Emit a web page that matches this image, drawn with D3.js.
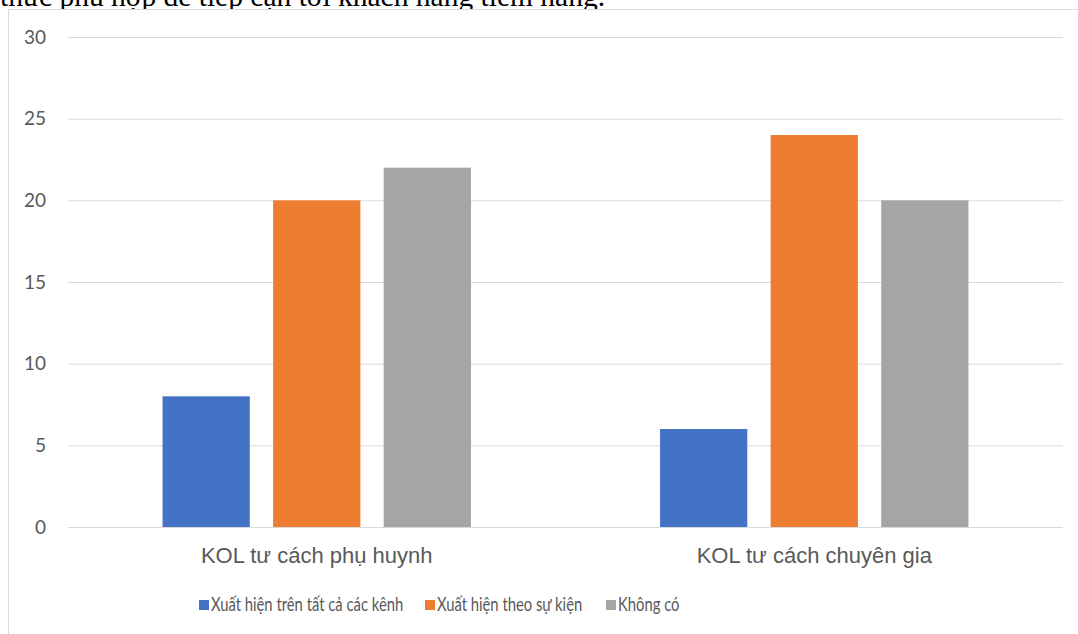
<!DOCTYPE html>
<html>
<head>
<meta charset="utf-8">
<script src="https://cdn.jsdelivr.net/npm/d3@7"></script>
<style>
  html, body { margin: 0; padding: 0; background: #fff; overflow: hidden; }
  svg { display: block; }
</style>
</head>
<body>
<svg id="chart" width="1078" height="634"></svg>
<script>
// Chart data
const categories = ["KOL tư cách phụ huynh", "KOL tư cách chuyên gia"];
const seriesNames = ["Xuất hiện trên tất cả các kênh", "Xuất hiện theo sự kiện", "Không có"];
const seriesColors = ["#4472C4", "#ED7D31", "#A5A5A5"];
const valuesAllChannels = [8, 6];
const valuesByEvent = [20, 24];
const valuesNone = [22, 20];
const yTicks = [0, 5, 10, 15, 20, 25, 30];
const headingText = "thức phù hợp để tiếp cận tới khách hàng tiềm năng.";

const seriesValues = [valuesAllChannels, valuesByEvent, valuesNone];
const rows = categories.map((c, i) => ({
  category: c,
  values: seriesNames.map((s, j) => ({ series: s, value: seriesValues[j][i], color: seriesColors[j] }))
}));

const svg = d3.select("#chart");

// Paragraph text above the chart frame
svg.append("text")
  .attr("x", 0)
  .attr("y", 6)
  .attr("font-family", "'Liberation Serif', 'Times New Roman', serif")
  .attr("font-size", 29.5)
  .attr("fill", "#000")
  .text(headingText);

// Chart frame
svg.append("rect")
  .attr("x", 8.5).attr("y", 9.5)
  .attr("width", 1080).attr("height", 640)
  .attr("fill", "#fff")
  .attr("stroke", "#d9d9d9").attr("stroke-width", 1);

const plot = { left: 68, right: 1063, top: 37, bottom: 527 };

const y = d3.scaleLinear().domain([0, 30]).range([plot.bottom, plot.top]);
const x0 = d3.scaleBand().domain(categories).range([plot.left, plot.right]).padding(0);
const x1 = d3.scaleBand().domain(seriesNames).range([0, x0.bandwidth()])
  .paddingInner(0.211).paddingOuter(0.855);

// Value axis with gridlines
const yAxis = d3.axisLeft(y).tickValues(yTicks).tickSize(-(plot.right - plot.left)).tickPadding(22);
const gy = svg.append("g")
  .attr("transform", `translate(${plot.left},0)`)
  .call(yAxis);
gy.select(".domain").remove();
gy.selectAll(".tick line").attr("stroke", "#d9d9d9").attr("stroke-width", 1);
gy.selectAll(".tick text")
  .attr("font-family", "Lato, 'Open Sans', sans-serif")
  .attr("font-size", 19)
  .attr("fill", "#595959");

// Bars
const groups = svg.append("g").selectAll("g")
  .data(rows)
  .join("g")
  .attr("transform", d => `translate(${x0(d.category)},0)`);

groups.selectAll("rect")
  .data(d => d.values)
  .join("rect")
  .attr("x", d => x1(d.series))
  .attr("y", d => y(d.value))
  .attr("width", x1.bandwidth())
  .attr("height", d => y(0) - y(d.value))
  .attr("fill", d => d.color);

// Category axis labels
const xAxis = d3.axisBottom(x0).tickSize(0).tickPadding(20);
const gx = svg.append("g")
  .attr("transform", `translate(0,${plot.bottom})`)
  .call(xAxis);
gx.select(".domain").remove();
gx.selectAll(".tick text")
  .attr("font-family", "'Liberation Sans', Arial, sans-serif")
  .attr("font-size", 22)
  .attr("fill", "#595959");

// Legend (text compressed horizontally for a narrow face)
const legendX = [199, 425, 606];
const legend = svg.append("g").selectAll("g")
  .data(seriesNames)
  .join("g")
  .attr("transform", (d, i) => `translate(${legendX[i]},605)`);
legend.append("rect")
  .attr("x", 0).attr("y", -5)
  .attr("width", 10).attr("height", 10)
  .attr("fill", (d, i) => seriesColors[i]);
legend.append("text")
  .attr("transform", "translate(12,0) scale(0.8,1)")
  .attr("dy", "0.35em")
  .attr("font-family", "Lato, 'Open Sans', sans-serif")
  .attr("font-size", 18.5)
  .attr("fill", "#595959")
  .text(d => d);
</script>
</body>
</html>
